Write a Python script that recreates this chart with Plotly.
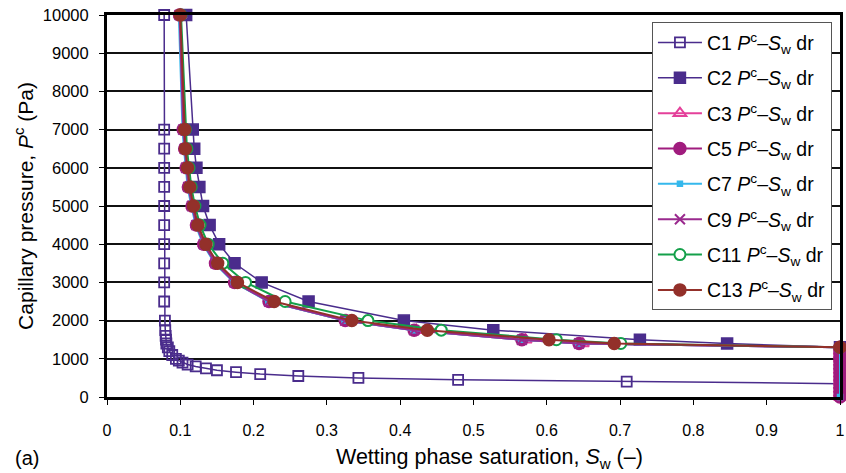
import plotly.graph_objects as go

# ---------------- data ----------------
p_c1 = [10000, 7000, 6500, 6000, 5500, 5000, 4500, 4000, 3500, 3000, 2500, 2000, 1750,
        1600, 1500, 1400, 1300, 1200, 1100, 1000, 950, 900, 850, 800, 750, 700, 650, 600,
        550, 500, 450, 400, 350]
sw_c1 = [0.078, 0.078, 0.078, 0.078, 0.078, 0.078, 0.078, 0.078, 0.078, 0.078, 0.078, 0.079,
         0.0795, 0.080, 0.0805, 0.081, 0.083, 0.085, 0.089, 0.094, 0.098, 0.103, 0.110, 0.121,
         0.135, 0.150, 0.176, 0.209, 0.261, 0.343, 0.479, 0.709, 1.0]

p_main = [10000, 7000, 6500, 6000, 5500, 5000, 4500, 4000, 3500, 3000, 2500, 2000, 1750,
          1500, 1400, 1300]
sw_c2 = [0.108, 0.117, 0.119, 0.122, 0.126, 0.131, 0.140, 0.153, 0.174, 0.211, 0.275, 0.405,
         0.527, 0.727, 0.846, 1.0]
sw_c13 = [0.100, 0.106, 0.107, 0.110, 0.113, 0.118, 0.124, 0.135, 0.151, 0.178, 0.228, 0.334,
          0.437, 0.603, 0.692, 1.0]
sw_c11 = [0.101, 0.107, 0.109, 0.112, 0.115, 0.120, 0.127, 0.138, 0.158, 0.189, 0.243, 0.356,
          0.456, 0.613, 0.701, 1.0]
sw_c5 = [0.099, 0.104, 0.106, 0.108, 0.111, 0.116, 0.122, 0.132, 0.148, 0.174, 0.221, 0.325,
         0.419, 0.566, 0.644, 1.0]
sw_c3 = [0.100, 0.105, 0.107, 0.109, 0.112, 0.117, 0.123, 0.133, 0.149, 0.176, 0.223, 0.327,
         0.422, 0.571, 0.649, 1.0]
sw_c9 = [0.099, 0.104, 0.106, 0.108, 0.111, 0.116, 0.122, 0.132, 0.148, 0.174, 0.221, 0.325,
         0.419, 0.566, 0.644, 1.0]
sw_c7 = [0.098, 0.103, 0.105, 0.107, 0.110, 0.115, 0.121, 0.131, 0.147, 0.173, 0.220, 0.324,
         0.418, 0.565, 0.643, 1.0]

# tail at Sw = 1 (pressure dropping to zero)
p_tail = [1200, 1100, 1000, 900, 800, 700, 600, 500, 400, 300, 200, 100, 0]
sw_tail = [1.0] * len(p_tail)
p_tail_c7 = [0]
sw_tail_c7 = [1.0]

x_ticks = [0, 0.1, 0.2, 0.3, 0.4, 0.5, 0.6, 0.7, 0.8, 0.9, 1]
x_tick_text = ["0", "0.1", "0.2", "0.3", "0.4", "0.5", "0.6", "0.7", "0.8", "0.9", "1"]
y_ticks = [0, 1000, 2000, 3000, 4000, 5000, 6000, 7000, 8000, 9000, 10000]
y_tick_text = ["0", "1000", "2000", "3000", "4000", "5000", "6000", "7000", "8000", "9000", "10000"]

lbl = "<i>P</i><sup>c</sup>–<i>S</i><sub>w</sub> dr"

FONT = "Liberation Sans, Arial, sans-serif"

fig = go.Figure()

def add(name, xs, ys, color, symbol, size, mcolor=None, lcolor=None, lwidth=2, mlw=1.5):
    fig.add_trace(go.Scatter(
        x=xs, y=ys, mode="lines+markers", name=name, legendgroup=name,
        line=dict(color=color, width=lwidth),
        marker=dict(symbol=symbol, size=size, color=mcolor if mcolor else color,
                    line=dict(color=lcolor if lcolor else color, width=mlw)),
        cliponaxis=False,
    ))

add("C1 " + lbl, sw_c1, p_c1, "#4A2C8C", "square-open", 10, lwidth=1.5, mlw=1.8)
add("C2 " + lbl, sw_c2, p_main, "#4A2C8C", "square", 11, lwidth=1.5)
add("C3 " + lbl, sw_c3 + sw_tail, p_main + p_tail, "#E4409A", "triangle-up-open", 11, mlw=2)
add("C5 " + lbl, sw_c5 + sw_tail, p_main + p_tail, "#A01C7E", "circle", 12)
add("C7 " + lbl, sw_c7 + sw_tail_c7, p_main + p_tail_c7, "#35B8EC", "square", 5)
add("C9 " + lbl, sw_c9, p_main, "#9A2A8E", "x-thin-open", 10, mlw=2)
add("C11 " + lbl, sw_c11, p_main, "#14A04A", "circle", 11, mcolor="white", lcolor="#14A04A", mlw=2)
add("C13 " + lbl, sw_c13, p_main, "#93302A", "circle", 12)

fig.update_layout(
    width=846, height=473,
    margin=dict(l=107, r=6, t=15, b=76, autoexpand=False),
    paper_bgcolor="white", plot_bgcolor="white",
    font=dict(family=FONT, size=16, color="black"),
    showlegend=True,
    legend=dict(
        x=0.989, y=0.981, xanchor="right", yanchor="top",
        bgcolor="white", bordercolor="#555555", borderwidth=1,
        font=dict(family=FONT, size=19.5, color="black"),
        tracegroupgap=7, itemwidth=44,
    ),
    xaxis=dict(
        range=[0, 1], tickvals=x_ticks, ticktext=x_tick_text,
        showgrid=False, zeroline=False, automargin=False,
        showline=True, linecolor="black", linewidth=3, mirror=True,
        ticks="outside", ticklen=5, tickwidth=1.2, tickcolor="black",
        ticklabelstandoff=12, ticklabeloverflow="allow",
        tickfont=dict(family=FONT, size=16),
    ),
    yaxis=dict(
        range=[0, 10000], tickvals=y_ticks, ticktext=y_tick_text,
        showgrid=True, gridcolor="#111111", gridwidth=1.5, zeroline=False, automargin=False,
        showline=True, linecolor="black", linewidth=3, mirror=True,
        ticks="outside", ticklen=5, tickwidth=1.2, tickcolor="black",
        ticklabelstandoff=7, ticklabeloverflow="allow",
        tickfont=dict(family=FONT, size=16.5),
        title=dict(text="Capillary pressure, <i>P</i><sup>c</sup> (Pa)",
                   font=dict(family=FONT, size=21), standoff=4),
    ),
    annotations=[
        dict(text="Wetting phase saturation, <i>S</i><sub>w</sub> (–)",
             xref="paper", yref="paper", x=0.522, y=-0.16,
             xanchor="center", yanchor="middle", showarrow=False,
             font=dict(family=FONT, size=21.5)),
        dict(text="(a)", xref="paper", yref="paper", x=-0.128, y=-0.16,
             xanchor="left", yanchor="middle", showarrow=False,
             font=dict(family=FONT, size=20)),
    ],
)

fig.write_html("out.html", config={"displayModeBar": False},
               post_script="document.body.style.margin='0px';")
